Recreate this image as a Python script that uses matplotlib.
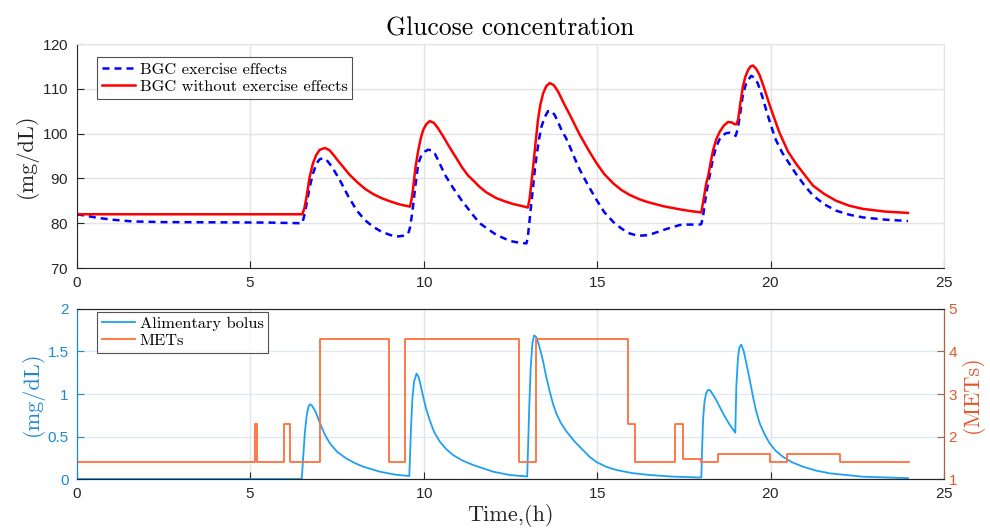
import matplotlib
matplotlib.use("Agg")
import matplotlib.pyplot as plt

# ---- data ----
# BGC with exercise effects (blue dashed)
bgc_ex_t = [0, 0.3, 0.6, 1.0, 1.6, 2.5, 4.0, 5.5, 6.45, 6.5, 6.57, 6.64, 6.71, 6.8, 6.91, 7.0,
            7.1, 7.2, 7.35, 7.58, 7.8, 8.06, 8.3, 8.54, 8.78, 9.02, 9.21, 9.4, 9.55, 9.6, 9.65,
            9.7, 9.74, 9.8, 9.84, 9.93, 10.03, 10.12, 10.22, 10.32, 10.41, 10.61, 10.85, 11.1,
            11.42, 11.61, 11.81, 12.09, 12.35, 12.57, 12.8, 12.96, 13.0, 13.05, 13.1, 13.15,
            13.2, 13.25, 13.32, 13.39, 13.48, 13.58, 13.67, 13.77, 13.87, 13.97, 14.1, 14.21,
            14.35, 14.5, 14.74, 14.98, 15.2, 15.46, 15.7, 15.94, 16.18, 16.4, 16.61, 16.8,
            16.99, 17.2, 17.38, 17.6, 17.95, 18.0, 18.05, 18.1, 18.17, 18.24, 18.33, 18.43,
            18.53, 18.63, 18.72, 18.82, 18.92, 18.99, 19.05, 19.11, 19.16, 19.2, 19.28, 19.35,
            19.44, 19.53, 19.63, 19.75, 19.87, 20.0, 20.15, 20.33, 20.53, 20.75, 21.0, 21.22,
            21.55, 21.89, 22.27, 22.66, 23.3, 23.96]
bgc_ex = [82.0, 81.6, 81.2, 80.8, 80.4, 80.25, 80.2, 80.15, 80.0, 80.1, 82.3, 85.2, 88.1, 91.0,
          93.4, 94.3, 94.5, 94.1, 92.6, 89.6, 86.3, 82.9, 80.7, 79.2, 78.1, 77.4, 77.0, 77.2,
          77.7, 79.0, 81.5, 84.5, 87.4, 91.0, 93.3, 95.2, 96.0, 96.4, 96.3, 95.5, 94.1, 90.8,
          87.8, 85.0, 81.8, 80.0, 78.9, 77.4, 76.5, 75.9, 75.6, 75.5, 77.0, 80.7, 84.5, 88.1,
          92.0, 95.0, 98.7, 101.5, 103.6, 105.0, 105.1, 104.2, 102.6, 100.8, 99.0, 97.1,
          94.5, 91.9, 88.4, 85.2, 82.5, 80.3, 78.8, 77.7, 77.2, 77.3, 77.7, 78.2,
          78.7, 79.2, 79.6, 79.7, 79.7, 79.8, 81.5, 84.4, 87.8, 90.6, 94.2, 97.1,
          98.8, 99.7, 100.1, 100.2, 99.9, 99.5, 101.0, 103.8, 106.6, 108.7, 110.9, 112.0,
          112.9, 112.5, 111.2, 108.5, 105.3, 102.0, 98.6, 95.8, 93.4, 90.8, 88.2, 86.2,
          84.2, 82.8, 81.9, 81.3, 80.8, 80.5]

# BGC without exercise effects (red)
bgc_t = [0, 6.5, 6.56, 6.62, 6.71, 6.8, 6.9, 7.0, 7.15, 7.28, 7.39, 7.52, 7.67, 7.85, 8.06, 8.3,
         8.54, 8.78, 9.02, 9.3, 9.6, 9.65, 9.69, 9.76, 9.84, 9.91, 9.98, 10.07, 10.17, 10.29,
         10.41, 10.55, 10.7, 10.9, 11.09, 11.27, 11.47, 11.61, 11.8, 12.09, 12.33, 12.57, 12.8,
         13.0, 13.05, 13.1, 13.15, 13.2, 13.29, 13.36, 13.44, 13.53, 13.63, 13.75, 13.87,
         14.06, 14.21, 14.35, 14.5, 14.75, 14.98, 15.2, 15.46, 15.7, 15.94, 16.2, 16.42, 16.9,
         17.38, 17.7, 18.0, 18.07, 18.14, 18.2, 18.27, 18.34, 18.43, 18.53, 18.65, 18.77,
         18.88, 18.96, 19.01, 19.06, 19.13, 19.2, 19.27, 19.35, 19.42, 19.49, 19.58, 19.68,
         19.82, 19.97, 20.12, 20.26, 20.5, 20.74, 20.98, 21.22, 21.55, 21.89, 22.27, 22.66,
         23.3, 23.96]
bgc = [82.0, 82.0, 83.5, 86.0, 90.4, 93.3, 95.3, 96.4, 96.8, 96.3, 95.3, 94.0, 92.6, 90.9, 89.3,
       87.7, 86.5, 85.6, 84.9, 84.2, 83.7, 85.5, 87.8, 92.5, 96.3, 98.9, 100.8, 102.1, 102.8,
       102.4, 101.2, 99.5, 97.5, 95.0, 92.6, 90.7, 89.2, 88.1, 86.9, 85.6, 84.9, 84.3, 83.9,
       83.5, 85.5, 88.9, 92.5, 96.3, 103.0, 106.5, 109.0, 110.6, 111.3, 110.8, 109.4,
       106.4, 104.2, 102.0, 99.7, 96.3, 93.4, 91.0, 88.9, 87.4, 86.3, 85.4, 84.8, 83.8,
       83.1, 82.7, 82.4, 85.5, 88.8, 90.6, 93.6, 96.3, 98.7, 100.4, 101.8, 102.6,
       102.5, 102.1, 102.1, 103.0, 107.0, 110.5, 112.7, 114.2, 115.0, 115.2, 114.5, 113.1,
       110.0, 106.4, 103.1, 100.1, 96.0, 93.2, 90.8, 88.4, 86.5, 85.0, 83.9, 83.2,
       82.6, 82.3]

# Alimentary bolus (left axis, mg/dL)
bolus_t = [0, 6.48, 6.52, 6.57, 6.62, 6.67, 6.72, 6.78, 6.88, 7.0, 7.15, 7.29, 7.5, 7.77, 8.0,
           8.25, 8.73, 9.2, 9.58, 9.6, 9.63, 9.67, 9.72, 9.79, 9.85, 9.92, 9.98, 10.07, 10.17,
           10.3, 10.46, 10.65, 10.85, 11.1, 11.42, 12.0, 12.48, 12.98, 13.0, 13.04, 13.08,
           13.13, 13.18, 13.24, 13.3, 13.37, 13.44, 13.53, 13.63, 13.72, 13.82, 13.95, 14.11,
           14.35, 14.59, 14.78, 14.98, 15.25, 15.55, 16.0, 16.51, 17.2, 17.95, 18.0, 18.02,
           18.05, 18.09, 18.14, 18.2, 18.26, 18.34, 18.43, 18.63, 18.8, 18.98, 19.01, 19.06,
           19.1, 19.15, 19.22, 19.3, 19.4, 19.49, 19.58, 19.68, 19.82, 19.97, 20.15, 20.36,
           20.6, 20.93, 21.3, 21.7, 22.66, 23.96]
bolus = [0, 0, 0.25, 0.55, 0.74, 0.85, 0.88, 0.86, 0.79, 0.66, 0.52, 0.42, 0.32, 0.24, 0.19,
         0.145, 0.086, 0.05, 0.035, 0.25, 0.6, 0.95, 1.15, 1.24, 1.2, 1.08, 0.97, 0.82, 0.69,
         0.55, 0.44, 0.35, 0.28, 0.22, 0.165, 0.086, 0.047, 0.03, 0.3, 0.85, 1.3,
         1.6, 1.69, 1.67, 1.6, 1.5, 1.38, 1.2, 1.03, 0.89, 0.77, 0.66, 0.56,
         0.44, 0.34, 0.26, 0.2, 0.145, 0.106, 0.07, 0.047, 0.028, 0.018, 0.02, 0.3,
         0.69, 0.9, 1.01, 1.05, 1.04, 0.99, 0.93, 0.77, 0.65, 0.545, 1.09, 1.44,
         1.55, 1.58, 1.51, 1.36, 1.16, 0.97, 0.8, 0.66, 0.53, 0.42, 0.33, 0.26,
         0.2, 0.145, 0.1, 0.067, 0.027, 0.01]

# METs (right axis), step changes
mets_t = [0, 5.13, 5.19, 5.97, 6.14, 7.0, 9.0, 9.47, 12.75, 13.23, 15.88, 16.09, 17.23, 17.48,
          17.98, 18.47, 19.97, 20.47, 22.0, 24.0]
mets = [1.4, 2.3, 1.4, 2.3, 1.4, 4.3, 1.4, 4.3, 1.4, 4.3, 2.3, 1.4, 2.3, 1.47,
        1.4, 1.6, 1.4, 1.6, 1.4, 1.4]

# ---- styling ----
tick_font = "Liberation Sans"
tex_font = "cmr10"
axis_gray = "#262626"
grid_gray = "#E3E3E3"
left_blue = "#1E88D2"
bolus_blue = "#1FA0F2"
mets_orange = "#FF6E3A"
right_orange = "#E0562A"
right_spine = "#B0603F"

plt.rcParams["font.family"] = tick_font
plt.rcParams["axes.formatter.use_mathtext"] = True

fig = plt.figure(figsize=(9.9, 5.3), dpi=100)

# ---------------- top panel ----------------
ax1 = fig.add_axes([0.0778, 0.4943, 0.8758, 0.4226])
ax1.plot(bgc_ex_t, bgc_ex, color="#0000FF", lw=1.8, ls="--", dashes=(2.8, 2.0),
         label="BGC exercise effects")
ax1.plot(bgc_t, bgc, color="#FF0000", lw=1.8, label="BGC without exercise effects")
ax1.set_xlim(0, 25)
ax1.set_ylim(70, 120)
ax1.set_xticks([0, 5, 10, 15, 20, 25])
ax1.set_yticks([70, 80, 90, 100, 110, 120])
ax1.grid(True, color=grid_gray, lw=1)
ax1.set_axisbelow(True)
ax1.tick_params(direction="in", length=5, labelsize=11, colors=axis_gray, pad=6)
for s in ["top", "right"]:
    ax1.spines[s].set_color(grid_gray)
for s in ["left", "bottom"]:
    ax1.spines[s].set_color(axis_gray)
ax1.set_ylabel("(mg/dL)", fontfamily=tex_font, fontsize=16, color=axis_gray, labelpad=3)
ax1.set_title("Glucose concentration", fontfamily=tex_font, fontsize=18.5, pad=6)
leg1 = ax1.legend(loc="upper left", bbox_to_anchor=(0.023, 0.94), prop={"family": tex_font, "size": 11.8},
                  frameon=True, fancybox=False, edgecolor=axis_gray, handlelength=2.0,
                  handletextpad=0.3, borderpad=0.3, labelspacing=0.15, borderaxespad=0)
leg1.get_frame().set_linewidth(0.8)

# ---------------- bottom panel ----------------
ax2 = fig.add_axes([0.0778, 0.0962, 0.8758, 0.3208])
ax3 = ax2.twinx()
l1, = ax2.plot(bolus_t, bolus, color=bolus_blue, lw=1.3, label="Alimentary bolus")
l2, = ax3.plot(mets_t, mets, color=mets_orange, lw=1.3, drawstyle="steps-post", label="METs")
ax2.set_xlim(0, 25)
ax2.set_ylim(0, 2)
ax3.set_ylim(1, 5)
ax2.set_xticks([0, 5, 10, 15, 20, 25])
ax2.set_yticks([0, 0.5, 1, 1.5, 2])
ax2.set_yticklabels(["0", "0.5", "1", "1.5", "2"])
ax3.set_yticks([1, 2, 3, 4, 5])
ax2.xaxis.grid(True, color=grid_gray, lw=1)
ax2.yaxis.grid(True, color="#DCEAF6", lw=1)
ax2.set_axisbelow(True)
ax2.tick_params(axis="x", direction="in", length=5, labelsize=11, colors=axis_gray, pad=6)
ax2.tick_params(axis="y", direction="in", length=5, labelsize=11, colors=left_blue, pad=6)
ax3.tick_params(axis="y", direction="in", length=5, labelsize=11, colors=right_orange, pad=3)
ax3.tick_params(axis="y", which="major", color=right_spine)
for a in (ax2, ax3):
    a.spines["top"].set_color(axis_gray)
    a.spines["bottom"].set_color(axis_gray)
    a.spines["left"].set_color(left_blue)
    a.spines["right"].set_color(right_spine)
ax2.set_ylabel("(mg/dL)", fontfamily=tex_font, fontsize=16, color=left_blue, labelpad=3)
ax3.set_ylabel("(METs)", fontfamily=tex_font, fontsize=16, color=right_orange, labelpad=2)
ax2.set_xlabel("Time,(h)", fontfamily=tex_font, fontsize=16, color=axis_gray, labelpad=2)
leg2 = ax3.legend([l1, l2], ["Alimentary bolus", "METs"], loc="upper left",
                  bbox_to_anchor=(0.023, 0.985), prop={"family": tex_font, "size": 11.8},
                  frameon=True, fancybox=False, edgecolor=axis_gray, handlelength=2.0,
                  handletextpad=0.3, borderpad=0.3, labelspacing=0.15, borderaxespad=0)
leg2.get_frame().set_linewidth(0.8)

fig.savefig("out.png", dpi=100)
